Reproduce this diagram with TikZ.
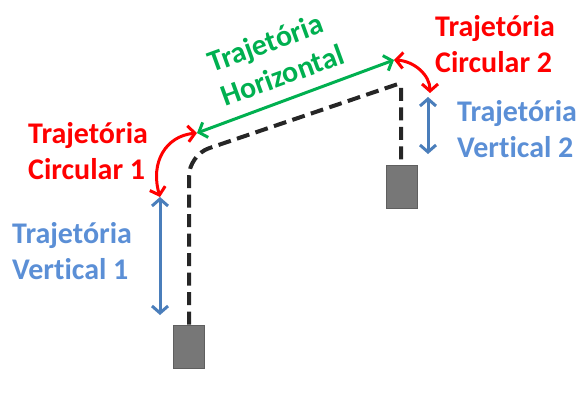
\documentclass[tikz,border=0pt]{standalone}
\usepackage{fontspec}
\setmainfont{Carlito}[Ligatures=NoCommon]
\usetikzlibrary{arrows.meta}
\definecolor{redlbl}{HTML}{FF0000}
\definecolor{greenlbl}{HTML}{00B050}
\definecolor{bluelbl}{HTML}{5B8FD6}
\definecolor{bluearr}{HTML}{4A7EBB}
\definecolor{blockgray}{HTML}{777777}
\tikzset{
  lbl/.style={inner sep=0pt, align=left, font=\fontsize{30}{36}\selectfont\bfseries},
  block/.style={fill=blockgray, draw=blockgray!80!black, line width=0.6pt,
                minimum width=31pt, minimum height=43pt, inner sep=0pt},
  trail/.style={line width=4pt, black!85, dash pattern=on 13pt off 6.5pt},
  twotip/.style={{Straight Barb[length=7pt,width=16pt]}-{Straight Barb[length=7pt,width=16pt]}},
  circarr/.style={twotip, redlbl, line width=3pt},
  horarr/.style={twotip, greenlbl, line width=3pt},
  vertarr/.style={twotip, bluearr, line width=3pt},
}
\begin{document}
\begin{tikzpicture}[x=1pt, y=-1pt]
  \useasboundingbox (0,0) rectangle (587,407);

  % loads at the two ends of the route
  \node[block] (loadA) at (189,346.5) {};
  \node[block] (loadB) at (402,186.5) {};

  % route bends
  \coordinate (bendA) at (189,155);
  \coordinate (bendB) at (401,83);

  % dashed route of the load
  \draw[trail, rounded corners=21pt] (loadA.north) -- (bendA)
        [rounded corners=4pt] -- (bendB) -- (loadB.north -| bendB);

  % arrow end points
  \coordinate (hA) at (197,133);
  \coordinate (hB) at (394,60);
  \coordinate (vA1) at (160,197);
  \coordinate (vA2) at (160,315);
  \coordinate (cB) at (430,93);
  \coordinate (vB1) at (428,97);
  \coordinate (vB2) at (428,154);

  % movements
  \draw[horarr] (hA) -- (hB);
  \draw[circarr] (vA1) .. controls (150,162) and (166,136) .. (hA);
  \draw[circarr] (hB) .. controls (414,61) and (430,75) .. (cB);
  \draw[vertarr] (vA1) -- (vA2);
  \draw[vertarr] (vB1) -- (vB2);

  % labels
  \node[lbl, text=redlbl, anchor=west] (lblCircA) at (28,151) {Trajetória\\Circular 1};
  \node[lbl, text=redlbl, anchor=west] (lblCircB) at (435,44.5) {Trajetória\\Circular 2};
  \node[lbl, text=bluelbl, anchor=west] (lblVertA) at (12,251) {Trajetória\\Vertical 1};
  \node[lbl, text=bluelbl, anchor=west] (lblVertB) at (457,129.5) {Trajetória\\Vertical 2};
  \node[lbl, text=greenlbl, rotate=20] (lblHor) at (276,58) {Trajetória\\Horizontal};
\end{tikzpicture}
\end{document}
